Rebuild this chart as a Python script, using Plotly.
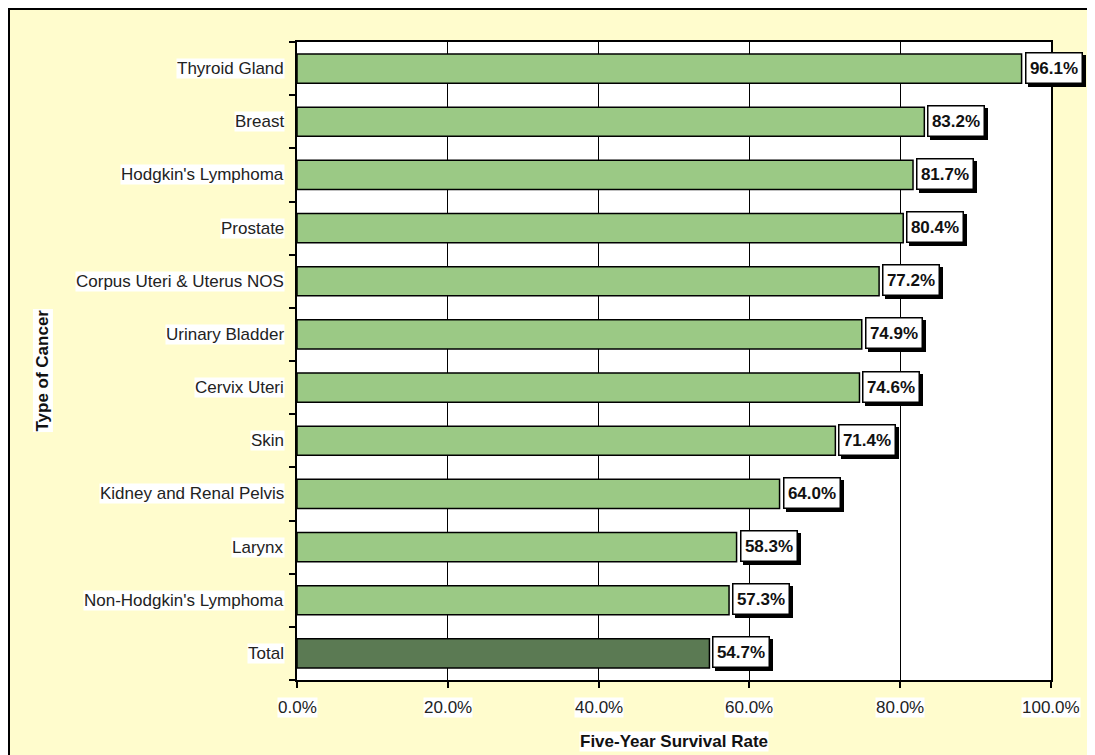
import plotly.graph_objects as go

# data, top to bottom as in the chart
cancer_types = [
    "Thyroid Gland",
    "Breast",
    "Hodgkin's Lymphoma",
    "Prostate",
    "Corpus Uteri & Uterus NOS",
    "Urinary Bladder",
    "Cervix Uteri",
    "Skin",
    "Kidney and Renal Pelvis",
    "Larynx",
    "Non-Hodgkin's Lymphoma",
    "Total",
]
survival_rates = [96.1, 83.2, 81.7, 80.4, 77.2, 74.9, 74.6, 71.4, 64.0, 58.3, 57.3, 54.7]
x_ticks = [0, 20, 40, 60, 80, 100]

FONT = "Liberation Sans, Arial, sans-serif"
GREEN = "#9BC985"
DARK_GREEN = "#5B7A53"
YELLOW = "#FFFCCD"

# page has an 8px body margin, margins below compensate for it
ML, MT, MR, MB = 289, 34, 52, 83
PW, PH = 754, 638

bar_colors = [DARK_GREEN if c == "Total" else GREEN for c in cancer_types]

fig = go.Figure(
    go.Bar(
        x=survival_rates,
        y=cancer_types,
        orientation="h",
        marker_color=bar_colors,
        marker_line_color="black",
        marker_line_width=1.5,
        hoverinfo="skip",
    )
)

annotations = []

# category labels with white background
for c in cancer_types:
    annotations.append(dict(
        x=0, y=c, xref="x", yref="y", text=c, showarrow=False,
        xanchor="right", xshift=-12, bgcolor="white", borderpad=0,
        font=dict(family=FONT, size=17, color="#222"),
    ))

# x tick labels
for t in x_ticks:
    annotations.append(dict(
        x=t, y=0, xref="x", yref="paper", text=f"{t:.1f}%", showarrow=False,
        yanchor="top", yshift=-17, bgcolor="white", borderpad=0,
        font=dict(family=FONT, size=17, color="#222"),
    ))

# data labels: shadow first, then white box
for c, v in zip(cancer_types, survival_rates):
    for shadow in (True, False):
        annotations.append(dict(
            x=v, y=c, xref="x", yref="y", text=f"<b>{v:.1f}%</b>", showarrow=False,
            xanchor="left", xshift=3 + (3 if shadow else 0), yshift=(-3 if shadow else 0) + 1,
            width=53, height=27, align="center",
            bgcolor="black" if shadow else "white",
            bordercolor="black", borderwidth=1.5, borderpad=1,
            font=dict(family=FONT, size=17, color="black" if shadow else "#111"),
        ))

# axis titles
annotations.append(dict(
    x=0.5, y=0, xref="paper", yref="paper", text="<b>Five-Year Survival Rate</b>",
    showarrow=False, yanchor="middle", yshift=-61, bgcolor="white", borderpad=0,
    font=dict(family=FONT, size=17, color="#111"),
))
annotations.append(dict(
    x=0, y=0.485, xref="paper", yref="paper", text="<b>Type of Cancer</b>",
    showarrow=False, textangle=-90, xanchor="center", xshift=-254,
    bgcolor="white", borderpad=0,
    font=dict(family=FONT, size=17, color="#111"),
))

fig.update_layout(
    width=1095,
    height=755,
    margin=dict(l=ML, r=MR, t=MT, b=MB),
    paper_bgcolor="white",
    plot_bgcolor="white",
    bargap=0.45,
    showlegend=False,
    annotations=annotations,
    shapes=[
        # yellow chart area with black frame
        dict(type="rect", xref="paper", yref="paper", layer="below",
             x0=(0.5 - ML) / PW, x1=1.3, y0=-0.3, y1=1 + (MT - 0.5) / PH,
             fillcolor=YELLOW, line=dict(color="black", width=3)),
        # white plot area over it
        dict(type="rect", xref="paper", yref="paper", layer="below",
             x0=0, x1=1, y0=0, y1=1, fillcolor="white", line_width=0),
    ],
)
fig.update_xaxes(
    range=[0, 100],
    tickvals=x_ticks,
    showticklabels=False,
    ticks="outside",
    ticklen=6,
    tickwidth=1.5,
    tickcolor="black",
    showgrid=True,
    gridcolor="black",
    gridwidth=1,
    showline=True,
    linecolor="black",
    linewidth=1.5,
    mirror=True,
    zeroline=False,
    fixedrange=True,
)
fig.update_yaxes(
    categoryorder="array",
    categoryarray=cancer_types[::-1],
    showticklabels=False,
    ticks="outside",
    tickson="boundaries",
    ticklen=6,
    tickwidth=1.5,
    tickcolor="black",
    showgrid=False,
    showline=True,
    linecolor="black",
    linewidth=1.5,
    mirror=True,
    fixedrange=True,
)

fig.write_html("out.html")
